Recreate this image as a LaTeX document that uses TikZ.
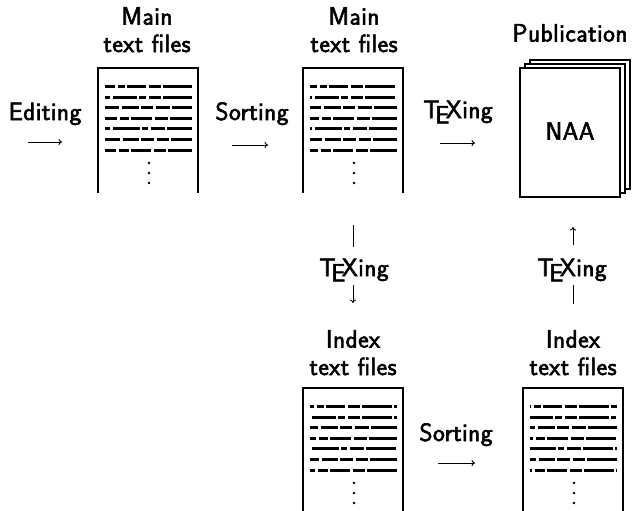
\documentclass[tikz,border=0pt]{standalone}
\usepackage{fontspec}
\setsansfont{Latin Modern Sans}[FakeBold=2.5,LetterSpace=2]
\usetikzlibrary{arrows.meta}
\tikzset{
  lab/.style={font=\fontsize{25}{27.5}\selectfont\sffamily, inner sep=0pt, align=center},
  frame/.style={line width=1.6pt},
  arr/.style={line width=0.9pt, -{Computer Modern Rightarrow[length=3.5pt,width=6pt]}},
  plainline/.style={line width=0.9pt},
  wl/.style={line width=3pt},
  r1/.style={dash pattern=on 10pt off 2.5pt on 7pt off 2.5pt on 19pt off 2.5pt on 12pt off 2.5pt on 30pt off 2pt},
  r2/.style={dash pattern=on 5pt off 2.5pt on 24pt off 2.5pt on 7pt off 2.5pt on 12pt off 2.5pt on 30pt off 2pt},
  r3/.style={dash pattern=on 14pt off 2.5pt on 17pt off 2.5pt on 12pt off 2.5pt on 14pt off 2.5pt on 30pt off 2pt},
  r4/.style={dash pattern=on 12pt off 2.5pt on 9pt off 2.5pt on 21pt off 2.5pt on 13pt off 2.5pt on 30pt off 2pt},
  r5/.style={dash pattern=on 5pt off 2.5pt on 27pt off 2.5pt on 6pt off 2.5pt on 14pt off 2.5pt on 30pt off 2pt},
  r6/.style={dash pattern=on 15pt off 2.5pt on 16pt off 2.5pt on 13pt off 2.5pt on 12pt off 2.5pt on 30pt off 2pt},
  r7/.style={dash pattern=on 11pt off 2.5pt on 10pt off 2.5pt on 20pt off 2.5pt on 12pt off 2.5pt on 30pt off 2pt}
}
\newcommand\txtdoc[4]{%
\begin{scope}[shift={(#1,#2)}]
\draw[frame] (0,#3) -- (0,0) -- (100,0) -- (100,#3);
\draw[wl,r1,dash phase=#4pt] (7,18) -- (94,18);
\draw[wl,r2,dash phase=#4pt] (7,29) -- (94,29);
\draw[wl,r3,dash phase=#4pt] (7,39) -- (94,39);
\draw[wl,r4,dash phase=#4pt] (7,50) -- (94,50);
\draw[wl,r5,dash phase=#4pt] (7,60) -- (94,60);
\draw[wl,r6,dash phase=#4pt] (7,71) -- (94,71);
\draw[wl,r7,dash phase=#4pt] (7,82) -- (94,82);
\fill (51,95) circle (1.4);
\fill (51,105) circle (1.4);
\fill (51,115) circle (1.4);
\end{scope}}
\begin{document}
\begin{tikzpicture}[x=1pt,y=-1pt]
\useasboundingbox (0,0) rectangle (637,511);

% documents
\txtdoc{98}{68}{125}{0}
\txtdoc{303}{68}{125}{3}
\txtdoc{303}{388}{124}{6}
\txtdoc{523}{388}{124}{9}

% publication stack
\draw[frame, fill=white] (530,60) rectangle (630,189);
\draw[frame, fill=white] (525,64) rectangle (625,193);
\draw[frame, fill=white] (520,68) rectangle (620,197);
\node[lab] (naa) at (570,131) {NAA};

% titles
\node[lab, anchor=north] (t1) at (147,7) {Main\\text files};
\node[lab, anchor=north] (t2) at (354,7) {Main\\text files};
\node[lab, anchor=north] (t3) at (570,24) {Publication};
\node[lab, anchor=north] (t4) at (353,330) {Index\\text files};
\node[lab, anchor=north] (t5) at (573,330) {Index\\text files};

% step labels
\node[lab, anchor=base] (s1) at (45,120) {Editing};
\node[lab, anchor=base] (s2) at (252,120) {Sorting};
\node[lab, anchor=base] (s3) at (458,118) {\TeX ing};
\node[lab, anchor=base] (s4) at (354,276) {\TeX ing};
\node[lab, anchor=base] (s5) at (572,276) {\TeX ing};
\node[lab, anchor=base] (s6) at (456,441) {Sorting};

% arrows
\coordinate (a1s) at (28,142);  \coordinate (a1e) at (62,142);
\coordinate (a2s) at (232,145); \coordinate (a2e) at (268,145);
\coordinate (a3s) at (440,143); \coordinate (a3e) at (475,143);
\coordinate (a4s) at (438,463); \coordinate (a4e) at (475,463);
\draw[arr] (a1s) -- (a1e);
\draw[arr] (a2s) -- (a2e);
\draw[arr] (a3s) -- (a3e);
\draw[arr] (a4s) -- (a4e);

\coordinate (v1a) at (353,225); \coordinate (v1b) at (353,247);
\coordinate (v1c) at (353,285); \coordinate (v1d) at (353,303);
\draw[plainline] (v1a) -- (v1b);
\draw[arr] (v1c) -- (v1d);

\coordinate (v2a) at (573,245); \coordinate (v2b) at (573,227);
\coordinate (v2c) at (573,285); \coordinate (v2d) at (573,304);
\draw[arr] (v2a) -- (v2b);
\draw[plainline] (v2c) -- (v2d);
\end{tikzpicture}
\end{document}
